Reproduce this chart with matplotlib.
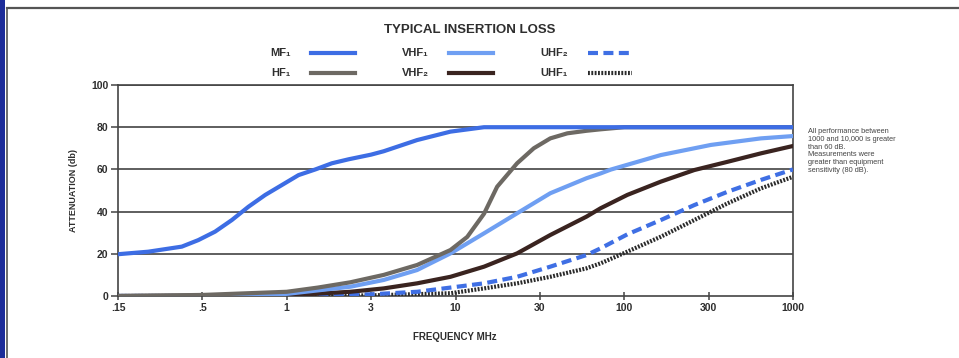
#!/usr/bin/env python3

import matplotlib

matplotlib.use("Agg")
import matplotlib.pyplot as plt
import numpy as np
from matplotlib.lines import Line2D
from matplotlib.patches import Rectangle

plt.rcParams["font.family"] = ["Liberation Sans", "DejaVu Sans"]

# tick positions on the frequency axis (equally spaced in the original)
TICK_VALS = [0.15, 0.5, 1, 3, 10, 30, 100, 300, 1000]
TICK_LABELS = [".15", ".5", "1", "3", "10", "30", "100", "300", "1000"]
Y_TICKS = [0, 20, 40, 60, 80, 100]

# curves (frequency MHz, attenuation dB)
mf1_f = [0.15, 0.231, 0.373, 0.472, 0.555, 0.637, 0.730, 0.838, 0.961, 1.166, 1.453,
         1.80, 2.24, 3.0, 3.59, 5.78, 9.31, 14.5, 30, 100, 300, 1000]
mf1_v = [19.8, 21.0, 23.4, 26.5, 30.5, 36, 42.3, 47.9, 52.6, 57.3, 60,
         62.9, 64.8, 67, 68.6, 73.9, 77.9, 80, 80, 80, 80, 80]

hf1_f = [0.15, 0.5, 1, 1.5, 2.29, 3.59, 5.78, 9.31, 11.65, 14.5, 17.2, 22.3, 27.7,
         34.8, 44.4, 58.3, 71.4, 100, 300, 1000]
hf1_v = [0, 0.5, 2, 4, 6.5, 10, 14.7, 21.8, 28, 39, 51.8, 62.9, 70,
         74.7, 77.1, 78.3, 79, 80, 80, 80]

vhf1_f = [0.15, 0.5, 1, 2.29, 3.59, 5.78, 9.31, 14.5, 22.3, 34.8, 58.3, 71.4, 82.4, 161, 310, 632, 1000]
vhf1_v = [0, 0, 1, 4.4, 7.6, 12.3, 20.2, 29.7, 39.2, 48.7, 55.8, 58.1, 59.9, 66.8, 71.6, 74.7, 75.8]

vhf2_f = [0.15, 1, 2.29, 3.59, 5.78, 9.31, 14.5, 22.3, 34.8, 58.3, 71.4, 104, 161, 249, 393, 632, 1000]
vhf2_v = [0, 0.3, 2, 3.6, 6, 9.1, 13.9, 20.2, 28.9, 37.6, 41.6, 47.9, 54.2, 59.7, 63.6, 67.6, 71.1]

uhf2_f = [0.15, 1, 3, 5.78, 14.5, 22.3, 34.8, 58.3, 71.4, 104, 161, 249, 393, 632, 1000]
uhf2_v = [0, 0, 0.8, 2, 6, 9.1, 13.9, 19.4, 22.6, 29.2, 36, 43.1, 49.4, 55, 60]

uhf1_f = [0.15, 1, 3, 9.31, 14.5, 22.3, 34.8, 58.3, 71.4, 104, 161, 249, 393, 632, 1000]
uhf1_v = [0, 0, 0.3, 1.3, 3.6, 6, 9.1, 13.1, 15.5, 21, 28.1, 36, 43.9, 51, 56.5]

NOTE = ("All performance between\n1000 and 10,000 is greater\nthan 60 dB.\n"
        "Measurements were\ngreater than equipment\nsensitivity (80 dB).")

LOG_T = np.log10(TICK_VALS)
IDX = np.arange(len(TICK_VALS))


def fwd(x):
    x = np.clip(np.asarray(x, dtype=float), 1e-6, None)
    return np.interp(np.log10(x), LOG_T, IDX)


def inv(u):
    return 10 ** np.interp(np.asarray(u, dtype=float), IDX, LOG_T)


TXT = "#2e2e2e"

fig = plt.figure(figsize=(9.59, 3.58), dpi=100)
fig.patch.set_facecolor("white")

# scan frame
fig.add_artist(Rectangle((0, 0), 0.005, 1, transform=fig.transFigure, color="#1d2d9a", lw=0))
fig.add_artist(Line2D([0.007, 1], [0.978, 0.978], transform=fig.transFigure, color="#555555", lw=1.6))
fig.add_artist(Line2D([0.007, 0.007], [0, 0.978], transform=fig.transFigure, color="#555555", lw=1.2))

ax = fig.add_axes([118 / 959, 62 / 358, 675 / 959, 211 / 358])
ax.set_xscale("function", functions=(fwd, inv))
ax.set_xlim(0.15, 1000)
ax.set_ylim(0, 100)

for y in Y_TICKS[1:]:
    ax.axhline(y, color="#333333", lw=1.1, zorder=1)

lw = 3.0
ax.plot(uhf1_f, uhf1_v, color="#2a2a2a", lw=lw, ls=(0, (0.45, 0.35)), label="UHF₁", zorder=3)
ax.plot(uhf2_f, uhf2_v, color="#3f6fe4", lw=lw, ls=(0, (2.4, 1.3)), label="UHF₂", zorder=4)
ax.plot(vhf2_f, vhf2_v, color="#3a2420", lw=lw, label="VHF₂", zorder=5)
ax.plot(vhf1_f, vhf1_v, color="#6f9ff2", lw=lw, label="VHF₁", zorder=6)
ax.plot(hf1_f, hf1_v, color="#6d6963", lw=lw, label="HF₁", zorder=7)
ax.plot(mf1_f, mf1_v, color="#3d6de4", lw=lw, label="MF₁", zorder=8)

ax.set_xticks(TICK_VALS)
ax.set_xticklabels(TICK_LABELS)
ax.set_yticks(Y_TICKS)
ax.minorticks_off()
ax.tick_params(axis="x", direction="inout", length=6, width=1.1, color="#444444",
               labelsize=7.5, labelcolor=TXT, pad=2)
ax.tick_params(axis="y", direction="out", length=5, width=1.1, color="#444444",
               labelsize=7.5, labelcolor=TXT, pad=2)
for lab in ax.get_xticklabels() + ax.get_yticklabels():
    lab.set_fontweight("bold")
for side in ["left", "right", "bottom", "top"]:
    ax.spines[side].set_color("#444444")
    ax.spines[side].set_linewidth(1.2)

fig.text(470 / 959, 1 - 30 / 358, "TYPICAL INSERTION LOSS", ha="center", va="center",
         fontsize=9.5, fontweight="bold", color=TXT)
fig.text(455 / 959, 1 - 337 / 358, "FREQUENCY MHz", ha="center", va="center",
         fontsize=7, fontweight="bold", color=TXT)
fig.text(73 / 959, 1 - 190 / 358, "ATTENUATION (db)", ha="center", va="center",
         rotation=90, fontsize=6.5, fontweight="bold", color=TXT)
fig.text(808 / 959, 1 - 128 / 358, NOTE, ha="left", va="top", fontsize=5.3,
         color="#444444", linespacing=1.15)

handles, labels = ax.get_legend_handles_labels()
order = ["MF₁", "HF₁", "VHF₁", "VHF₂", "UHF₂", "UHF₁"]
hmap = dict(zip(labels, handles))
leg = fig.legend([hmap[k] for k in order], order, loc="center", ncol=3,
                 bbox_to_anchor=(451 / 959, 1 - 63.5 / 358), frameon=False,
                 markerfirst=False, handlelength=4.0, handletextpad=1.8,
                 columnspacing=4.2, labelspacing=0.9, fontsize=8)
for t in leg.get_texts():
    t.set_fontweight("bold")
    t.set_color(TXT)

fig.savefig("out.png", dpi=100)
